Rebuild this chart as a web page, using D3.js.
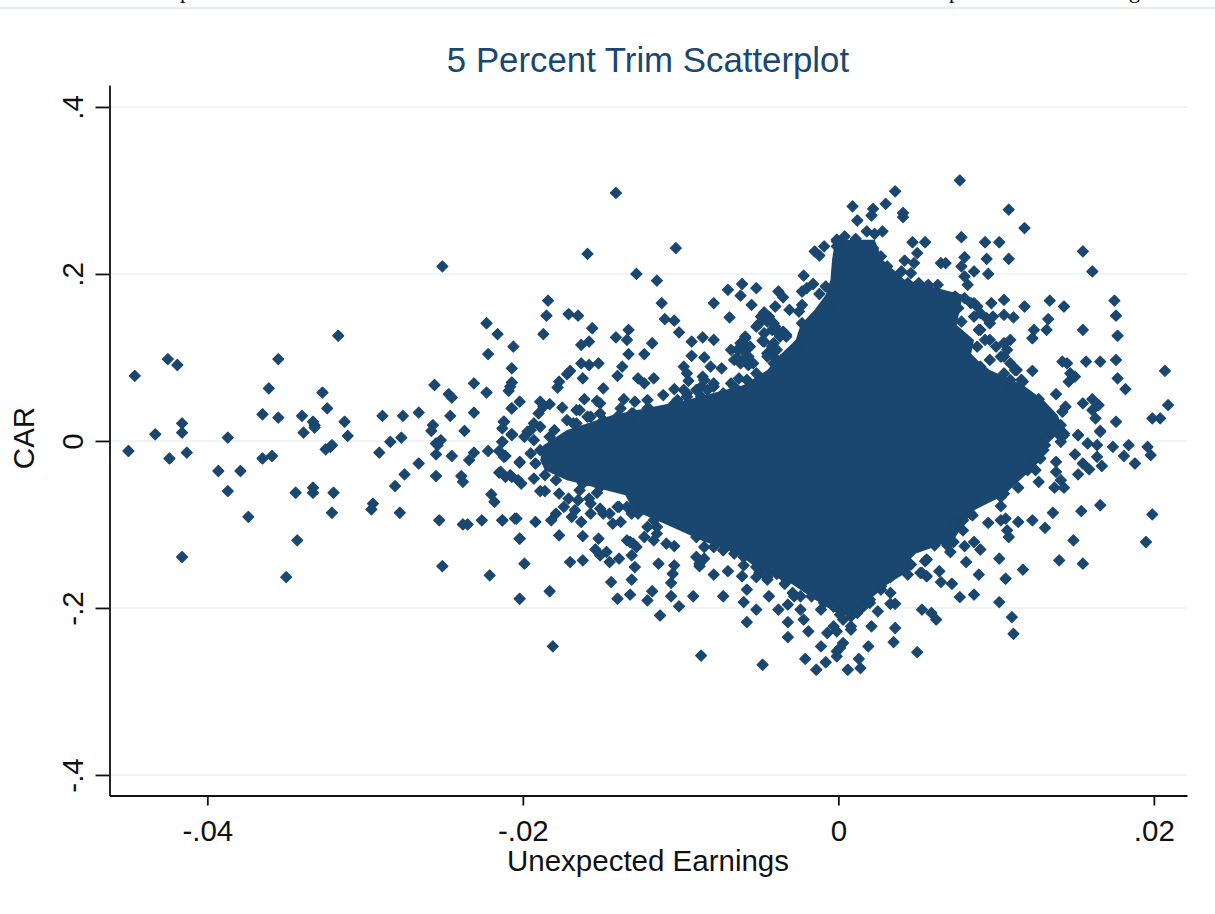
<!DOCTYPE html>
<html><head><meta charset="utf-8">
<script src="https://cdn.jsdelivr.net/npm/d3@7"></script>
<style>html,body{margin:0;padding:0;background:#fff;overflow:hidden}svg{display:block}text{font-family:"Liberation Sans",Arial,sans-serif}</style>
</head><body><svg id="c" width="1215" height="914"></svg>
<script>
const titleText="5 Percent Trim Scatterplot", xTitle="Unexpected Earnings", yTitle="CAR";
const xTicks=[-.04,-.02,0,.02], xTickLabels=["-.04","-.02","0",".02"];
const yTicks=[-.4,-.2,0,.2,.4], yTickLabels=["-.4","-.2","0",".2",".4"];
const navy="#1a476f", grid="#eaf2f3";

// Saturated centre of the cloud, where single markers cannot be told apart: read as left/right limits per CAR level
const coreCar=[.241,.217,.193,.175,.157,.139,.121,.103,.085,.067,.049,.031,.013,-.005,-.023,-.035,-.047,-.065,-.083,-.101,-.119,-.137,-.154,-.172,-.190,-.205];
const coreLow=[-.0002,-.0004,-.0005,-.0008,-.0015,-.0024,-.0027,-.0037,-.0045,-.0060,-.0096,-.0143,-.0172,-.0187,-.0189,-.0186,-.0172,-.0135,-.0130,-.0108,-.0087,-.0062,-.0051,-.0029,-.0015,-.0002];
const coreHigh=[.0023,.0028,.0042,.0079,.0077,.0075,.0086,.0084,.0096,.0117,.0130,.0139,.0143,.0130,.0128,.0122,.0115,.0105,.0086,.0079,.0073,.0046,.0046,.0031,.0020,.0012];

// [Unexpected Earnings, CAR]
const leftTail=[[-.0450,-.012],[-.0446,.078],[-.0433,.008],[-.0425,.098],[-.0419,.091],[-.0424,-.021],[-.0416,.021],[-.0416,.010],[-.0413,-.014],[-.0416,-.139],[-.0387,.004],[-.0393,-.036],[-.0379,-.036],[-.0387,-.060],[-.0374,-.091],[-.0365,.032],[-.0355,.098],[-.0361,.063],[-.0355,.028],[-.0365,-.021],[-.0359,-.018],[-.0344,-.062],[-.0343,-.119],[-.0350,-.163],[-.0340,.030],[-.0339,.010],[-.0333,.023],[-.0332,.019],[-.0332,.016],[-.0324,.039],[-.0327,.058],[-.0313,.023],[-.0311,.006],[-.0325,-.010],[-.0322,-.007],[-.0321,-.005],[-.0317,.126],[-.0333,-.056],[-.0333,-.062],[-.0320,-.062],[-.0321,-.086],[-.0289,.030],[-.0276,.030],[-.0266,.034],[-.0277,.004],[-.0284,-.001],[-.0291,-.014],[-.0295,-.075],[-.0296,-.082],[-.0281,-.054],[-.0275,-.040],[-.0278,-.086],[-.0266,-.027],[-.0251,.209],[-.0256,.067],[-.0247,.056],[-.0245,.052],[-.0246,.030],[-.0257,.019],[-.0258,.012],[-.0252,.001],[-.0255,-.003],[-.0254,-.005],[-.0255,-.016],[-.0245,-.018],[-.0255,-.042],[-.0237,.012],[-.0231,.069],[-.0231,.034],[-.0223,.058],[-.0223,.141],[-.0216,.128],[-.0206,.113],[-.0222,.104],[-.0207,.087],[-.0207,.070],[-.0208,.065],[-.0209,.060],[-.0207,.039],[-.0202,.047],[-.0212,.023],[-.0213,.015],[-.0207,.008],[-.0213,-.001],[-.0222,-.012],[-.0215,-.012],[-.0211,-.018],[-.0231,-.014],[-.0234,-.023],[-.0239,-.042],[-.0238,-.049],[-.0220,-.064],[-.0218,-.073],[-.0253,-.095],[-.0238,-.100],[-.0235,-.100],[-.0226,-.095],[-.0213,-.095],[-.0204,-.093],[-.0202,-.117],[-.0202,-.025],[-.0215,-.038],[-.0211,-.043],[-.0207,-.043],[-.0203,-.047],[-.0251,-.150],[-.0221,-.161],[-.0202,-.189]];

const upperLeft=[[-.0141,.297],[-.0159,.224],[-.0103,.231],[-.0128,.200],[-.0115,.192],[-.0112,.165],[-.0110,.146],[-.0104,.144],[-.0101,.130],[-.0184,.168],[-.0185,.150],[-.0171,.152],[-.0165,.150],[-.0187,.128],[-.0156,.135],[-.0141,.124],[-.0133,.133],[-.0134,.121],[-.0158,.119],[-.0163,.115],[-.0118,.117],[-.0133,.104],[-.0123,.104],[-.0163,.093],[-.0158,.091],[-.0152,.093],[-.0170,.084],[-.0172,.080],[-.0162,.075],[-.0137,.089],[-.0140,.078],[-.0127,.075],[-.0123,.069],[-.0117,.075],[-.0177,.071],[-.0178,.064],[-.0149,.063],[-.0111,.055],[-.0104,.062],[-.0098,.061],[-.0189,.047],[-.0183,.044],[-.0175,.040],[-.0161,.050],[-.0153,.048],[-.0136,.050],[-.0129,.047],[-.0121,.049],[-.0093,.119],[-.0086,.124],[-.0079,.121],[-.0093,.102],[-.0085,.100],[-.0081,.089],[-.0074,.087],[-.0098,.089],[-.0096,.081],[-.0095,.072],[-.0086,.077],[-.0079,.165],[-.0070,.181],[-.0061,.188],[-.0062,.174],[-.0052,.183],[-.0055,.163],[-.0069,.148],[-.0038,.179],[-.0035,.172],[-.0040,.161],[-.0031,.157],[-.0022,.198],[-.0016,.188],[-.0023,.179],[-.0020,.183],[-.0012,.176],[-.0008,.185],[-.0023,.163],[-.0025,.155],[-.0015,.227],[-.0012,.222],[-.0009,.233],[-.0001,.239],[-.0047,.154],[-.0044,.149],[-.0050,.141],[-.0041,.141],[-.0042,.133],[-.0035,.131],[-.0033,.125],[-.0059,.123],[-.0061,.117],[-.0058,.113],[-.0048,.120],[-.0041,.117],[-.0025,.117],[-.0068,.109],[-.0064,.099],[-.0060,.097],[-.0057,.091],[-.0063,.075],[-.0068,.069],[-.0064,.061],[-.0045,.105],[-.0041,.101],[-.0033,.095],[-.0087,.065],[-.0079,.069],[-.0083,.061],[-.0096,.057],
[-.0207,.039],[-.0207,.008],[-.0212,.023],[-.0197,.011],[-.0193,.021],[-.0190,.033],[-.0187,.041],[-.0172,.025],[-.0164,.037],[-.0166,.021],[-.0157,.029],[-.0151,.045],[-.0149,.025],[-.0141,.021],[-.0138,.039],[-.0131,.033],[-.0121,.039],[-.0115,.029],[-.0106,.029],[-.0102,.049],[-.0096,.037],[-.0087,.053]];

const lowerLeft=[[-.0207,.007],[-.0213,-.001],[-.0212,-.019],[-.0202,-.026],[-.0193,.001],[-.0195,-.015],[-.0189,-.011],[-.0192,-.027],[-.0183,.005],[-.0214,-.037],[-.0208,-.041],[-.0201,-.051],[-.0193,-.045],[-.0186,-.041],[-.0177,-.035],[-.0189,-.060],[-.0186,-.060],[-.0177,-.063],[-.0171,-.069],[-.0174,-.079],[-.0179,-.087],[-.0182,-.095],[-.0167,-.083],[-.0169,-.091],[-.0163,-.097],[-.0158,-.069],[-.0153,-.062],[-.0157,-.087],[-.0149,-.087],[-.0139,-.079],[-.0131,-.087],[-.0143,-.099],[-.0138,-.097],[-.0213,-.095],[-.0205,-.093],[-.0192,-.097],[-.0202,-.117],[-.0177,-.113],[-.0162,-.114],[-.0152,-.117],[-.0199,-.147],[-.0170,-.145],[-.0162,-.143],[-.0183,-.180],[-.0181,-.246],[-.0154,-.130],[-.0151,-.137],[-.0147,-.133],[-.0145,-.145],[-.0139,-.141],[-.0129,-.151],[-.0131,-.166],[-.0144,-.169],[-.0132,-.184],[-.0140,-.189],[-.0118,-.180],[-.0121,-.191],[-.0114,-.147],[-.0104,-.149],[-.0106,-.170],[-.0105,-.159],[-.0106,-.186],[-.0101,-.198],[-.0092,-.186],[-.0113,-.209],[-.0087,-.257],[-.0073,-.186],[-.0048,-.268],[-.0058,-.217],[-.0060,-.193],[-.0052,-.202],[-.0044,-.186],[-.0058,-.178],[-.0061,-.162],[-.0060,-.149],[-.0070,-.156],[-.0079,-.160],[-.0088,-.150],[-.0090,-.139],[-.0109,-.123],[-.0104,-.126],[-.0130,-.123],[-.0131,-.137],[-.0134,-.119],[-.0117,-.119],[-.0115,-.103],[-.0100,-.099],[-.0162,-.051],[-.0151,-.039],[-.0032,-.217],[-.0032,-.235],[-.0019,-.228],[-.0011,-.246],[-.0021,-.261],[-.0008,-.265],[-.0014,-.274],[-.0001,-.252],[-.0038,-.202],[-.0032,-.196],[-.0024,-.202],[-.0022,-.214],[-.0007,-.230],[-.0029,-.182],[-.0033,-.166],[-.0045,-.166],[-.0050,-.158],[-.0011,-.202],[-.0003,-.198]];

const upperRight=[[.0009,.281],[.0012,.264],[.0022,.278],[.0021,.270],[.0030,.284],[.0036,.299],[.0041,.273],[.0041,.268],[.0018,.251],[.0023,.248],[.0028,.251],[.0011,.242],[-.0001,.241],[.0004,.245],[.0047,.238],[.0055,.238],[.0077,.312],[.0108,.277],[.0118,.255],[.0078,.244],[.0093,.238],[.0102,.238],[.0080,.220],[.0094,.218],[.0108,.218],[.0095,.200],[.0086,.203],[.0078,.209],[.0080,.197],[.0082,.187],[.0065,.213],[.0068,.213],[.0042,.216],[.0050,.225],[.0048,.213],[.0155,.227],[.0161,.203],[.0175,.168],[.0176,.150],[.0177,.126],[.0176,.097],[.0177,.075],[.0182,.062],[.0207,.084],[.0209,.043],[.0176,.023],[.0199,.027],[.0204,.027],[.0166,.012],[.0097,.165],[.0105,.169],[.0118,.161],[.0134,.168],[.0143,.161],[.0111,.148],[.0133,.146],[.0124,.133],[.0123,.123],[.0132,.133],[.0155,.133],[.0123,.084],[.0142,.095],[.0145,.093],[.0157,.095],[.0166,.095],[.0147,.081],[.0150,.077],[.0146,.071],[.0138,.056],[.0155,.045],[.0161,.050],[.0165,.043],[.0161,.037],[.0163,.027],[.0144,.041],[.0142,.035],[.0127,.050],[.0122,.041],[.0130,.039],[.0122,.029],[.0130,.021],[.0141,.019],[.0143,.009],[.0152,.007],[.0132,.005],[.0116,.047],[.0086,.165],[.0090,.153],[.0098,.149],[.0105,.151],[.0096,.141],[.0090,.133],[.0096,.121],[.0105,.117],[.0109,.121],[.0107,.109],[.0103,.101],[.0096,.097],[.0109,.093],[.0113,.085],[.0117,.071],[.0109,.065]];

const lowerRight=[[.0174,-.007],[.0184,-.005],[.0196,-.007],[.0198,-.017],[.0181,-.018],[.0188,-.027],[.0150,-.016],[.0138,-.025],[.0138,-.037],[.0155,-.027],[.0159,-.034],[.0152,-.040],[.0167,-.030],[.0164,-.019],[.0158,-.003],[.0164,-.005],[.0152,.007],[.0166,.011],[.0143,.007],[.0141,-.001],[.0132,.003],[.0131,-.005],[.0127,-.049],[.0141,-.047],[.0137,-.056],[.0143,-.056],[.0128,-.021],[.0125,-.035],[.0114,-.056],[.0105,-.063],[.0103,-.078],[.0136,-.086],[.0154,-.084],[.0166,-.077],[.0199,-.088],[.0195,-.121],[.0149,-.119],[.0131,-.104],[.0123,-.095],[.0114,-.097],[.0106,-.093],[.0103,-.095],[.0095,-.098],[.0107,-.107],[.0108,-.115],[.0102,-.141],[.0140,-.143],[.0155,-.147],[.0117,-.154],[.0089,-.160],[.0106,-.165],[.0081,-.145],[.0086,-.184],[.0077,-.187],[.0102,-.193],[.0110,-.211],[.0111,-.231],[.0050,-.253],[.0035,-.241],[.0019,-.246],[.0036,-.224],[.0021,-.222],[.0036,-.195],[.0033,-.195],[.0025,-.204],[.0053,-.202],[.0059,-.206],[.0062,-.214],[.0033,-.182],[.0027,-.178],[.0072,-.171],[.0065,-.169],[.0064,-.156],[.0056,-.162],[.0053,-.158],[.0056,-.142],[.0046,-.148],[.0044,-.160],[.0090,-.130],[.0086,-.121],[.0080,-.126],[.0071,-.133],[.0069,-.125],[.0073,-.121],[.0085,-.089],[.0079,-.107],[.0074,-.098],[.0067,-.109],[.0061,-.125],[.0051,-.123],[.0046,-.125],[.0001,-.248],[-.0001,-.258],[.0013,-.261],[.0014,-.272],[.0006,-.274],[.0003,-.242],[.0008,-.222],[-.0001,-.228],[.0020,-.194],[.0013,-.202],[.0008,-.210],[-.0003,-.198],[.0001,-.208]];

// Touching clusters along the edge of the centre, placed where the crops show connected marks
const clustersUpperLeft=[[-.0049,.149],[-.0045,.143],[-.0052,.137],[-.0040,.137],[-.0047,.129],[-.0039,.131],[-.0037,.125],[-.0033,.127],[-.0062,.117],[-.0059,.125],[-.0056,.113],[-.0064,.109],[-.0060,.107],[-.0057,.101],[-.0066,.097],[-.0062,.093],[-.0054,.093],[-.0047,.119],[-.0042,.113],[-.0045,.101],[-.0039,.109],[-.0041,.093],[-.0036,.097],[-.0028,.097],[-.0026,.113],[-.0022,.129],[-.0023,.141],[-.0018,.137],[-.0014,.145],[-.0005,.161],[-.0028,.089],[-.0035,.081],[-.0045,.073],[-.0052,.081],[-.0058,.073],[-.0066,.065],[-.0073,.057],[-.0079,.065],[-.0085,.073],[-.0090,.061],[-.0079,.049],[-.0096,.053],[-.0087,.041],[-.0104,.045],[-.0109,.033],[-.0119,.037],[-.0130,.033],[-.0140,.029],[-.0151,.033],[-.0159,.029],[-.0166,.037],[-.0168,.021],[-.0180,.013],[-.0189,.017],[-.0195,.013],[-.0199,.005],[-.0151,.013],[-.0140,.009],[-.0130,.017],[-.0117,.013],[-.0104,.013],[-.0096,.021],[-.0081,.025],[-.0066,.045],[-.0058,.049],[-.0054,.057],[-.0045,.057]];

const clustersLowerLeft=[[-.0183,-.011],[-.0174,-.019],[-.0166,-.031],[-.0172,-.039],[-.0179,-.047],[-.0159,-.047],[-.0151,-.055],[-.0164,-.059],[-.0157,-.075],[-.0165,-.071],[-.0151,-.081],[-.0145,-.087],[-.0140,-.079],[-.0134,-.079],[-.0127,-.087],[-.0123,-.079],[-.0117,-.095],[-.0121,-.103],[-.0115,-.111],[-.0123,-.115],[-.0132,-.121],[-.0128,-.127],[-.0109,-.083],[-.0102,-.095],[-.0096,-.103],[-.0090,-.115],[-.0085,-.127],[-.0079,-.127],[-.0073,-.131],[-.0066,-.135],[-.0062,-.123],[-.0060,-.139],[-.0052,-.151],[-.0045,-.163],[-.0039,-.159],[-.0034,-.171],[-.0028,-.186],[-.0024,-.186],[-.0017,-.186],[-.0009,-.194],[-.0052,-.163],[-.0088,-.147],[-.0085,-.141],[-.0098,-.087],[-.0085,-.083],[-.0071,-.107],[-.0066,-.103],[-.0083,-.103],[-.0104,-.079],[-.0115,-.083],[-.0119,-.067]];

const clustersUpperRight=[[-.0001,.233],[.0016,.231],[.0022,.231],[.0027,.221],[.0031,.209],[.0035,.197],[.0040,.203],[.0046,.201],[.0044,.189],[.0051,.189],[.0057,.187],[.0063,.187],[.0067,.173],[.0074,.173],[.0080,.171],[.0076,.159],[.0072,.149],[.0078,.143],[.0086,.149],[.0084,.165],[.0088,.161],[.0094,.147],[.0089,.133],[.0093,.121],[.0088,.113],[.0084,.097],[.0100,.113],[.0105,.101],[.0112,.085],[.0105,.081],[.0116,.073],[.0109,.073],[.0090,.089],[.0105,.053],[.0113,.049],[.0120,.045],[.0130,.029],[.0137,.021],[.0126,.033],[.0100,.041],[.0139,.009]];

const clustersLowerRight=[[.0124,.001],[.0130,-.011],[.0124,-.023],[.0120,-.035],[.0111,-.043],[.0096,-.063],[.0103,-.067],[.0086,-.071],[.0084,-.087],[.0079,-.095],[.0073,-.099],[.0068,-.103],[.0067,-.083],[.0061,-.095],[.0061,-.111],[.0052,-.115],[.0046,-.115],[.0041,-.123],[.0045,-.135],[.0037,-.131],[.0039,-.155],[.0033,-.163],[.0027,-.174],[.0025,-.167],[.0020,-.190],[.0016,-.198],[.0012,-.206],[.0005,-.202],[.0008,-.226],[.0003,-.214],[-.0003,-.222],[.0052,-.158],[.0055,-.144]];

const svg=d3.select("#c");
const plotL=109.5,plotR=1187,plotT=85,plotB=795.5;
const x=d3.scaleLinear().domain([-.0462,.0221]).range([plotL,plotR]);
const y=d3.scaleLinear().domain([-.4246,.4263]).range([plotB,plotT]);

// header remnant at top of the page
svg.append("line").attr("x1",0).attr("x2",1215).attr("y1",8).attr("y2",8).attr("stroke","#e6eeec").attr("stroke-width",2);
svg.selectAll(".clip").data([["p",180],["p",949],["g",1129]]).join("text").attr("x",d=>d[1]).attr("y",-2.5).text(d=>d[0]).attr("font-size",22).style("font-family","Liberation Serif").attr("fill","#000");

// gridlines
svg.append("g").selectAll("line").data(yTicks).join("line").attr("x1",plotL).attr("x2",plotR).attr("y1",d=>y(d)).attr("y2",d=>y(d)).attr("stroke",grid).attr("stroke-width",1.6);

// marks
const area=d3.area().y(d=>y(d)).x0((d,i)=>x(coreLow[i])).x1((d,i)=>x(coreHigh[i]));
svg.append("path").attr("d",area(coreCar)).attr("fill",navy);
const sym=d3.symbol().type(d3.symbolSquare).size(60);
const all=[...leftTail,...upperLeft,...lowerLeft,...upperRight,...lowerRight,...clustersUpperLeft,...clustersLowerLeft,...clustersUpperRight,...clustersLowerRight];
svg.append("g").selectAll("path").data(all).join("path").attr("d",sym).attr("transform",d=>`translate(${x(d[0])},${y(d[1])}) rotate(45)`).attr("fill",navy).attr("stroke",navy).attr("stroke-width",1.2).attr("stroke-linejoin","round");

// axes
const ax=d3.axisBottom(x).tickValues(xTicks).tickFormat((d,i)=>xTickLabels[i]).tickSize(10).tickSizeOuter(0);
const gx=svg.append("g").attr("transform",`translate(0,${plotB})`).call(ax);
gx.selectAll("text").attr("font-size",29.5).attr("fill","#111").attr("dy",0).attr("y",45).style("font-family","Liberation Sans");
const ay=d3.axisLeft(y).tickValues(yTicks).tickFormat((d,i)=>yTickLabels[i]).tickSize(14).tickSizeOuter(0);
const gy=svg.append("g").attr("transform",`translate(${plotL},0)`).call(ay);
gy.selectAll("text").attr("font-size",29.5).attr("fill","#111").attr("text-anchor","middle").attr("dy",0).attr("x",0).attr("y",0)
  .attr("transform","translate(-27,0) rotate(-90)").style("font-family","Liberation Sans");
svg.selectAll(".domain,.tick line").attr("stroke","#111").attr("stroke-width",1.8);

svg.append("text").attr("x",648).attr("y",72).attr("text-anchor","middle").attr("font-size",34.8).attr("fill",navy).text(titleText);
svg.append("text").attr("x",648).attr("y",871).attr("text-anchor","middle").attr("font-size",29.5).attr("fill","#111").text(xTitle);
svg.append("text").attr("transform","translate(34,438) rotate(-90)").attr("text-anchor","middle").attr("font-size",29.5).attr("fill","#111").text(yTitle);
</script></body></html>
